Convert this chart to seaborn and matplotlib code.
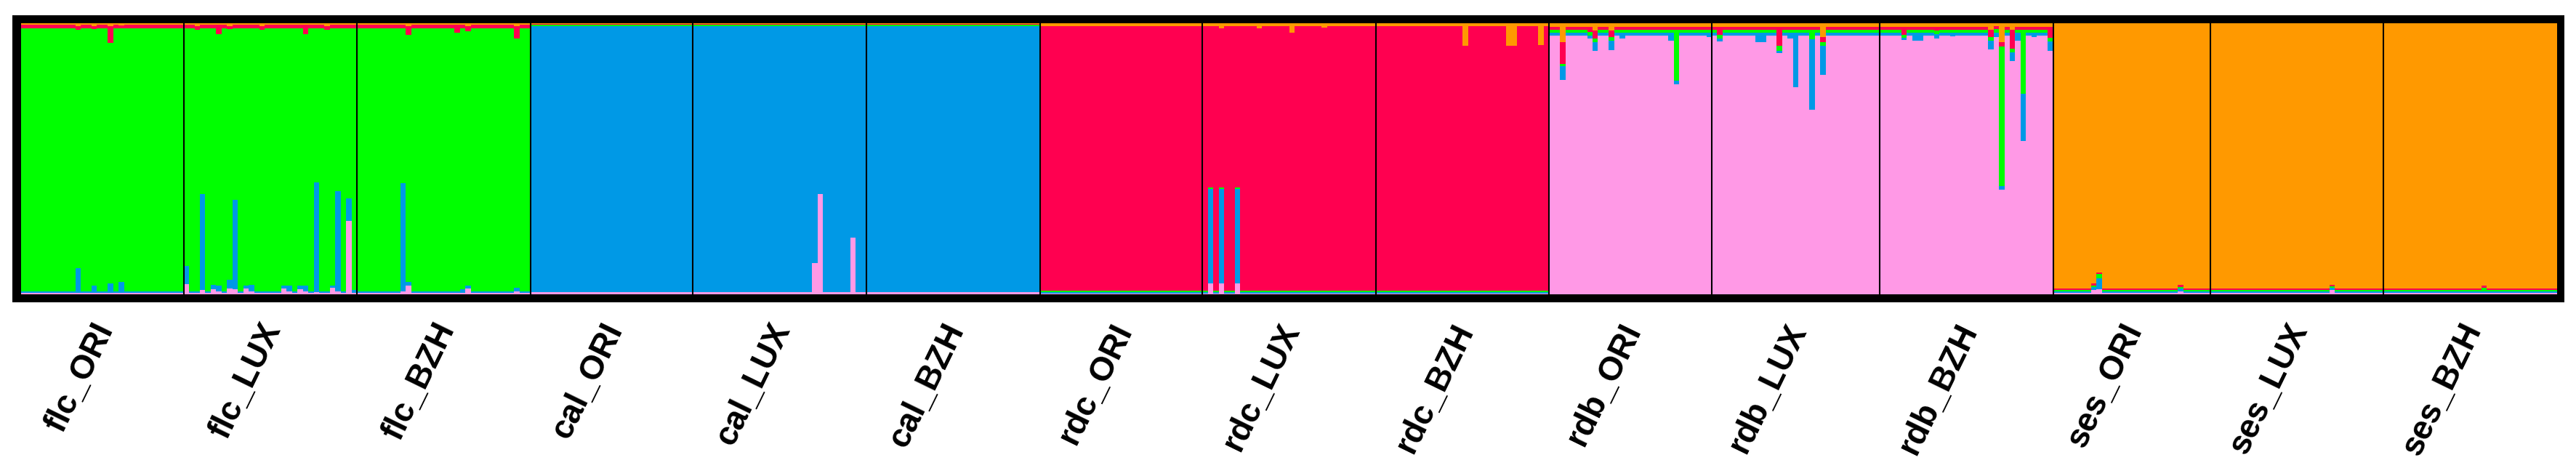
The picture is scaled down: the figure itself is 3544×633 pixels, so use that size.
import matplotlib
matplotlib.use("Agg")
import matplotlib.pyplot as plt
import seaborn as sns
import pandas as pd

# populations in plot order and number of individuals in each
populations = ["flc_ORI", "flc_LUX", "flc_BZH", "cal_ORI", "cal_LUX", "cal_BZH",
               "rdc_ORI", "rdc_LUX", "rdc_BZH", "rdb_ORI", "rdb_LUX", "rdb_BZH",
               "ses_ORI", "ses_LUX", "ses_BZH"]
n_ind = [30, 32, 32, 30, 32, 32, 30, 32, 32, 30, 31, 32, 29, 32, 32]

# clusters from the bottom of a bar to its top
clusters = ["pink", "blue", "green", "red", "orange"]
cluster_colors = ["#FF99E6", "#0099E6", "#00FF00", "#FF0050", "#FF9900"]

# usual membership of an individual in each population (pink, blue, green, red, orange)
background = [
    (0.006, 0.004, 0.972, 0.012, 0.006),
    (0.006, 0.004, 0.972, 0.012, 0.006),
    (0.006, 0.004, 0.972, 0.012, 0.006),
    (0.007, 0.983, 0.004, 0.002, 0.004),
    (0.007, 0.983, 0.004, 0.002, 0.004),
    (0.007, 0.983, 0.004, 0.002, 0.004),
    (0.004, 0.004, 0.005, 0.977, 0.010),
    (0.004, 0.004, 0.005, 0.977, 0.010),
    (0.004, 0.004, 0.005, 0.977, 0.010),
    (0.955, 0.010, 0.012, 0.010, 0.013),
    (0.955, 0.010, 0.012, 0.010, 0.013),
    (0.955, 0.010, 0.012, 0.010, 0.013),
    (0.005, 0.005, 0.006, 0.006, 0.978),
    (0.005, 0.005, 0.006, 0.006, 0.978),
    (0.005, 0.005, 0.006, 0.006, 0.978),
]

# admixed individuals: index in population -> memberships that differ from background
outliers = [
    {10: {"blue": 0.09, "orange": 0.012}, 13: {"blue": 0.025, "orange": 0.01},
     16: {"blue": 0.033, "red": 0.06, "orange": 0.012}, 18: {"blue": 0.04, "orange": 0.008}},
    {0: {"pink": 0.038, "blue": 0.067}, 2: {"orange": 0.012},
     3: {"pink": 0.016, "blue": 0.355}, 5: {"pink": 0.02, "blue": 0.014},
     6: {"pink": 0.01, "blue": 0.022, "red": 0.033}, 8: {"pink": 0.022, "blue": 0.032, "orange": 0.01},
     9: {"pink": 0.018, "blue": 0.33}, 11: {"pink": 0.022, "blue": 0.01},
     12: {"pink": 0.01, "blue": 0.024}, 14: {"orange": 0.012}, 18: {"pink": 0.022, "blue": 0.01},
     19: {"pink": 0.012, "blue": 0.02}, 21: {"pink": 0.02, "blue": 0.012},
     22: {"pink": 0.012, "blue": 0.02, "red": 0.033}, 24: {"pink": 0.008, "blue": 0.405},
     26: {"orange": 0.012}, 27: {"pink": 0.024, "blue": 0.008},
     28: {"pink": 0.01, "blue": 0.37}, 30: {"pink": 0.27, "blue": 0.085}, 31: {"blue": 0.01}},
    {8: {"pink": 0.01, "blue": 0.40}, 9: {"pink": 0.033, "blue": 0.013, "red": 0.03, "orange": 0.012},
     18: {"red": 0.03}, 19: {"blue": 0.012},
     20: {"pink": 0.022, "blue": 0.01, "red": 0.02, "orange": 0.01},
     29: {"pink": 0.01, "blue": 0.015, "red": 0.045, "orange": 0.01}},
    {},
    {22: {"pink": 0.115}, 23: {"pink": 0.37}, 29: {"pink": 0.21}},
    {},
    {},
    {1: {"pink": 0.04, "blue": 0.35}, 3: {"pink": 0.04, "blue": 0.35, "orange": 0.02},
     6: {"pink": 0.04, "blue": 0.35}, 10: {"orange": 0.02}, 16: {"orange": 0.035},
     22: {"orange": 0.015}},
    {16: {"orange": 0.083}, 24: {"orange": 0.083}, 25: {"orange": 0.083}, 30: {"orange": 0.08}},
    {2: {"blue": 0.05, "green": 0.008, "red": 0.08, "orange": 0.07},
     7: {"blue": 0.012, "green": 0.012, "red": 0.02},
     8: {"blue": 0.032, "green": 0.013, "red": 0.03, "orange": 0.027},
     11: {"blue": 0.035, "green": 0.013, "red": 0.025, "orange": 0.027},
     13: {"blue": 0.02}, 22: {"blue": 0.03}, 23: {"blue": 0.012, "green": 0.19}, 29: {"blue": 0.015}},
    {1: {"red": 0.03, "green": 0.013, "blue": 0.012}, 8: {"blue": 0.035}, 9: {"blue": 0.035},
     12: {"red": 0.07, "green": 0.018, "blue": 0.01}, 14: {"blue": 0.02},
     15: {"blue": 0.2, "red": 0.01}, 18: {"green": 0.035, "blue": 0.26},
     20: {"orange": 0.05, "red": 0.02, "green": 0.013, "blue": 0.108}},
    {4: {"red": 0.03, "green": 0.01, "blue": 0.01}, 6: {"blue": 0.03}, 7: {"blue": 0.03},
     10: {"red": 0.015, "blue": 0.015}, 12: {"blue": 0.01, "red": 0.01}, 13: {"blue": 0.012},
     20: {"orange": 0.025, "red": 0.027, "green": 0.013, "blue": 0.032},
     21: {"orange": 0.012, "red": 0.01, "green": 0.013, "blue": 0.015},
     22: {"orange": 0.07, "red": 0.015, "green": 0.515, "blue": 0.013},
     24: {"orange": 0.025, "red": 0.07, "green": 0.013, "blue": 0.032},
     25: {"blue": 0.03}, 26: {"green": 0.236, "blue": 0.174}, 28: {"blue": 0.015},
     31: {"red": 0.04, "green": 0.013, "blue": 0.035}},
    {7: {"pink": 0.015, "blue": 0.012}, 8: {"pink": 0.02, "blue": 0.04, "green": 0.015},
     23: {"pink": 0.012, "blue": 0.01}},
    {22: {"pink": 0.016, "blue": 0.008}},
    {18: {"green": 0.015, "red": 0.006}},
]

# long table: one row per individual and cluster
rows = []
ind = 0
for p, pop in enumerate(populations):
    base = dict(zip(clusters, background[p]))
    main = max(base, key=base.get)
    for j in range(n_ind[p]):
        q = dict(base)
        q.update(outliers[p].get(j, {}))
        q[main] = 0.0
        q[main] = 1.0 - sum(q.values())
        for c in clusters:
            rows.append({"ind": ind, "pop": pop, "cluster": c, "q": q[c]})
        ind += 1
df = pd.DataFrame(rows)
n_total = ind

W, H = 3544, 633
fig = plt.figure(figsize=(W / 100, H / 100), dpi=100)
# axes spans the black frame; the bars sit inside it
frame = (17, 21, 3528, 416)   # left, top, right, bottom in pixels
inner = (29, 32, 3518, 405)
ax = fig.add_axes([frame[0] / W, 1 - frame[3] / H,
                   (frame[2] - frame[0]) / W, (frame[3] - frame[1]) / H])
ax.set_facecolor("black")

sns.histplot(data=df, x="ind", weights="q", hue="cluster",
             hue_order=clusters[::-1], palette=dict(zip(clusters, cluster_colors)),
             multiple="stack", discrete=True, shrink=1, linewidth=0, alpha=1,
             antialiased=False, legend=False, ax=ax)

sx = (inner[2] - inner[0]) / n_total
sy = inner[3] - inner[1]
ax.set_xlim(-0.5 - (inner[0] - frame[0]) / sx, n_total - 0.5 + (frame[2] - inner[2]) / sx)
ax.set_ylim(-(frame[3] - inner[3]) / sy, 1 + (inner[1] - frame[1]) / sy)
for s in ax.spines.values():
    s.set_visible(False)
ax.set_xticks([])
ax.set_yticks([])
ax.set_xlabel("")
ax.set_ylabel("")

# population borders and labels
start = 0
for p, pop in enumerate(populations):
    if p > 0:
        ax.vlines(start - 0.5, 0, 1, color="black", linewidth=1.5, zorder=5)
    centre_px = inner[0] + sx * (start + n_ind[p] / 2)
    fig.text((centre_px + 24) / W, 1 - 438 / H, pop, rotation=64,
             ha="right", va="top", fontsize=33, fontweight="bold",
             family="Liberation Sans")
    start += n_ind[p]

fig.savefig("out.png", dpi=100)
